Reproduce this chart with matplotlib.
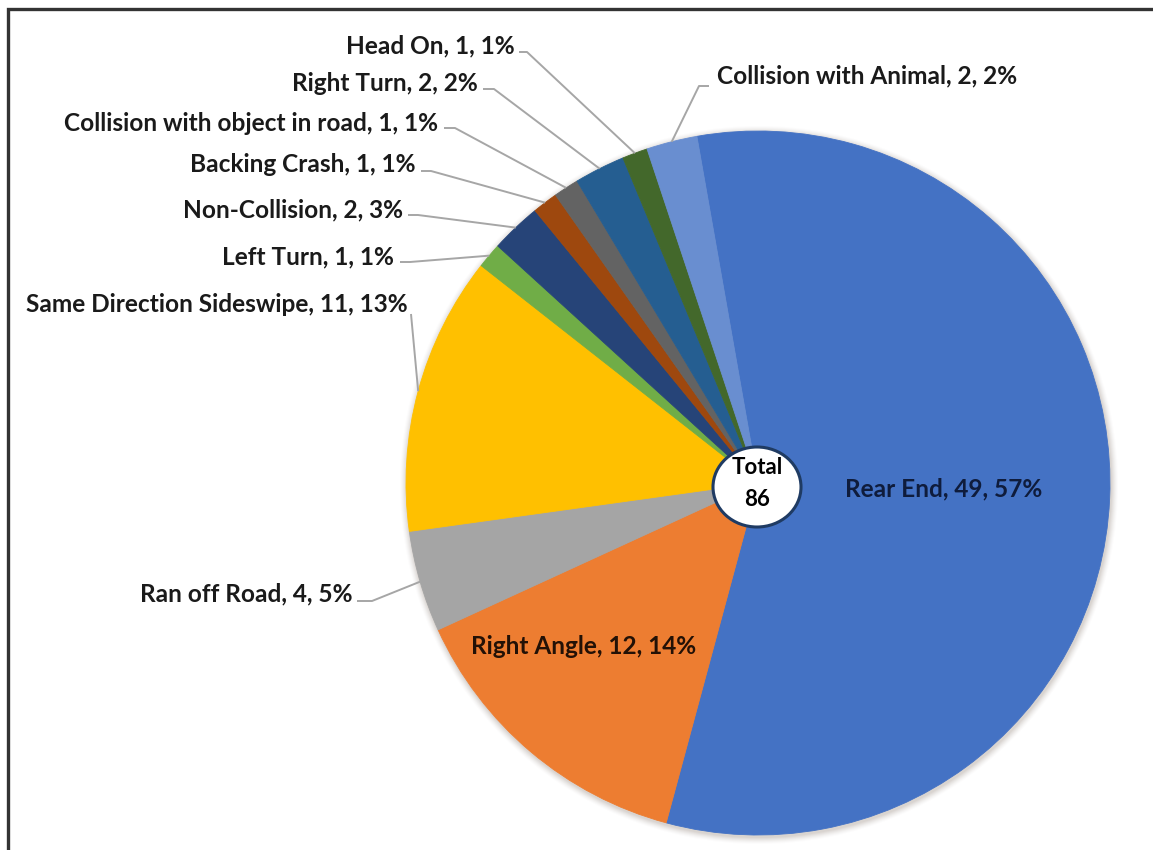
import numpy as np
import matplotlib.pyplot as plt
from matplotlib.patches import Circle, Ellipse

plt.rcParams['font.family'] = ['Lato', 'DejaVu Sans']

categories = ['Rear End', 'Right Angle', 'Ran off Road', 'Same Direction Sideswipe',
              'Left Turn', 'Non-Collision', 'Backing Crash',
              'Collision with object in road', 'Right Turn', 'Head On',
              'Collision with Animal']
counts = [49, 12, 4, 11, 1, 2, 1, 1, 2, 1, 2]
percents = [57, 14, 5, 13, 1, 3, 1, 1, 2, 1, 2]
total = 86

colors = ['#4472C4', '#ED7D31', '#A5A5A5', '#FFC000', '#70AD47', '#264478',
          '#9E480E', '#636363', '#255E91', '#43682B', '#698ED0']

W, H = 1153, 850
cx, cy, R = 758, 483, 352

fig = plt.figure(figsize=(W / 100, H / 100), dpi=100)
ax = fig.add_axes([0, 0, 1, 1])


def Y(y):
    # pixel rows run downward, data y runs upward
    return H - y


# soft shadow under the pie
for k, a in zip(range(7, 0, -1), [0.02, 0.03, 0.04, 0.05, 0.06, 0.07, 0.08]):
    ax.add_patch(Circle((cx + 1, Y(cy) - 2), R + k, color='#8a7a70', alpha=a,
                        lw=0, zorder=0))

wedges, _ = ax.pie(counts, colors=colors, startangle=100, counterclock=False,
                   center=(cx, Y(cy)), radius=R)
for w, c in zip(wedges, colors):
    w.set_edgecolor(c)
    w.set_linewidth(0.6)
    w.set_zorder(1)

ax.set_xlim(0, W)
ax.set_ylim(0, H)
ax.set_aspect('equal')
ax.axis('off')


def edge_point(i):
    w = wedges[i]
    mid = np.deg2rad((w.theta1 + w.theta2) / 2)
    return cx + R * np.cos(mid), Y(cy) + R * np.sin(mid)


def label(i):
    return f'{categories[i]}, {counts[i]}, {percents[i]}%'


fs = 17.6
txt_color = '#1a1a1a'
lead_color = '#a6a6a6'

# outside labels: (index, text x, text y, ha, leader start points)
outside = [
    (9, 515, 46, 'right', [(519, 52), (527, 52)]),
    (8, 478, 83, 'right', [(483, 89), (494, 89)]),
    (7, 438, 123, 'right', [(444, 128), (455, 128)]),
    (6, 416, 164, 'right', [(421, 171), (431, 171)]),
    (5, 403, 210, 'right', [(408, 215), (418, 215)]),
    (4, 394, 257, 'right', [(400, 262), (410, 262)]),
    (3, 408, 304, 'right', [(411, 314)]),
    (2, 353, 594, 'right', [(357, 601), (372, 601)]),
    (10, 717, 76, 'left', [(709, 86), (699, 86)]),
]
for i, tx, ty, ha, pts in outside:
    ax.text(tx, Y(ty), label(i), ha=ha, va='center', fontsize=fs,
            fontweight='bold', color=txt_color, zorder=3)
    ex, ey = edge_point(i)
    xs = [p[0] for p in pts] + [ex]
    ys = [Y(p[1]) for p in pts] + [ey]
    ax.plot(xs, ys, color=lead_color, lw=1.4, zorder=2, solid_capstyle='butt')

# labels inside the two largest slices
ax.text(944, Y(489), label(0), ha='center', va='center', fontsize=fs,
        fontweight='bold', color='#0f1c3c', zorder=3)
ax.text(584, Y(646), label(1), ha='center', va='center', fontsize=fs,
        fontweight='bold', color='#231106', zorder=3)

# total badge at the centre
ax.add_patch(Ellipse((757, Y(487)), 88, 80, facecolor='white',
                     edgecolor='#1f3b63', lw=2.2, zorder=4))
ax.text(757, Y(467), 'Total', ha='center', va='center', fontsize=16,
        fontweight='bold', color='black', zorder=5)
ax.text(757, Y(499), str(total), ha='center', va='center', fontsize=16,
        fontweight='bold', color='black', zorder=5)

# frame along the top and left edges
ax.plot([8, 8, W], [0, Y(9), Y(9)], color='#333333', lw=2.4,
        solid_joinstyle='miter', zorder=6)

fig.savefig('out.png', dpi=100)
